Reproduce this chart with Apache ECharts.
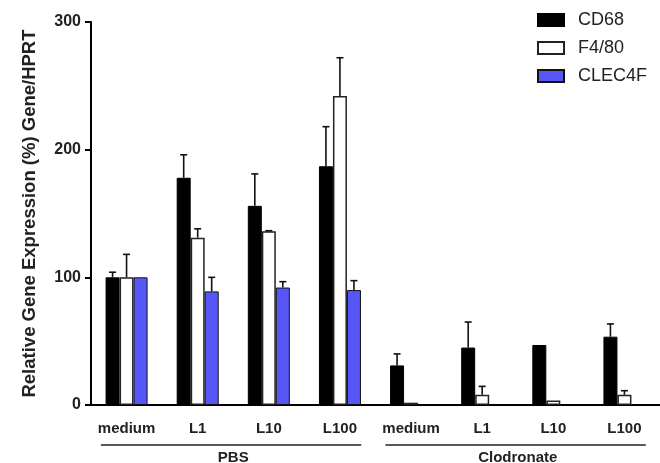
<!DOCTYPE html>
<html>
<head>
<meta charset="utf-8">
<script src="https://cdn.jsdelivr.net/npm/echarts@6/dist/echarts.min.js"></script>
<style>
  html, body { margin: 0; padding: 0; background: #fff; }
  #chart { width: 660px; height: 463px; }
</style>
</head>
<body>
<div id="chart"></div>
<script>
// categories (treatment) and groups
const categories = ['medium', 'L1', 'L10', 'L100', 'medium ', 'L1 ', 'L10 ', 'L100 '];
const groups = ['PBS', 'Clodronate'];

// mean values (% of HPRT)
const cd68 = [100, 178, 156, 187, 31, 45, 47, 53.5];
const f480 = [100, 131, 136, 242, 1.8, 8, 3.6, 8];
const clec4f = [100, 89, 92, 90, null, null, null, null];

// upper error (SEM)
const cd68Err = [4, 18, 25, 31, 9, 20, null, 10];
const f480Err = [18, 7, 0.5, 30, null, 6.6, null, 3.2];
const clec4fErr = [null, 11, 4.6, 7.4, null, null, null, null];

const yTicks = [0, 100, 200, 300];

const BAR_W = 14;
const FONT = 'Liberation Sans, Arial, sans-serif';

// error bar points: [category index, mean, err, series slot]
function errData(vals, errs, slot) {
  const out = [];
  vals.forEach((v, i) => {
    if (v != null && errs[i] != null) out.push([i, v, errs[i], slot]);
  });
  return out;
}

const errPoints = []
  .concat(errData(cd68, cd68Err, 0))
  .concat(errData(f480, f480Err, 1))
  .concat(errData(clec4f, clec4fErr, 2));

const chart = echarts.init(document.getElementById('chart'), null, { renderer: 'canvas' });

const option = {
  animation: false,
  textStyle: { fontFamily: FONT },
  grid: { left: 91, right: 0, top: 22, bottom: 58, outerBoundsMode: 'none', containLabel: false },
  legend: {
    orient: 'vertical',
    left: 537,
    top: 11,
    padding: 0,
    itemWidth: 26,
    itemHeight: 12,
    itemGap: 10,
    icon: 'rect',
    data: ['CD68', 'F4/80', 'CLEC4F'],
    textStyle: { fontSize: 18, color: '#222', padding: [0, 0, 0, 9], fontFamily: FONT }
  },
  xAxis: [
    {
      type: 'category',
      data: categories,
      axisLine: { lineStyle: { color: '#000', width: 2 } },
      axisTick: { alignWithLabel: true, length: 8, lineStyle: { color: '#000', width: 2 } },
      axisLabel: {
        interval: 0,
        margin: 16,
        fontSize: 15,
        fontWeight: 'bold',
        color: '#222',
        formatter: (v) => v.trim()
      }
    },
    {
      type: 'category',
      data: groups,
      position: 'bottom',
      axisLine: { show: false },
      axisTick: { show: false },
      axisLabel: { interval: 0, margin: 45, fontSize: 15, fontWeight: 'bold', color: '#222' }
    }
  ],
  yAxis: {
    type: 'value',
    min: yTicks[0],
    max: yTicks[yTicks.length - 1],
    interval: 100,
    name: 'Relative Gene Expression (%) Gene/HPRT',
    nameLocation: 'middle',
    nameGap: 52,
    nameTextStyle: { fontSize: 18.5, fontWeight: 'bold', color: '#222' },
    splitLine: { show: false },
    axisLine: { show: true, lineStyle: { color: '#000', width: 2 } },
    axisTick: { show: true, length: 6, lineStyle: { color: '#000', width: 2 } },
    axisLabel: { margin: 10, fontSize: 16, fontWeight: 'bold', color: '#222' }
  },
  series: [
    {
      name: 'CD68', type: 'bar', data: cd68, barWidth: BAR_W, barGap: '0%',
      itemStyle: { color: '#000', borderColor: '#000', borderWidth: 1 }
    },
    {
      name: 'F4/80', type: 'bar', data: f480, barWidth: BAR_W, barGap: '0%',
      itemStyle: { color: '#fff', borderColor: '#222', borderWidth: 1.5 }
    },
    {
      name: 'CLEC4F', type: 'bar', data: clec4f, barWidth: BAR_W, barGap: '0%',
      itemStyle: { color: '#5757F7', borderColor: '#111', borderWidth: 1 }
    },
    {
      type: 'custom',
      data: errPoints,
      z: 5,
      renderItem: function (params, api) {
        const i = api.value(0);
        const base = api.coord([i, api.value(1)]);
        const top = api.coord([i, api.value(1) + api.value(2)]);
        const x = base[0] + (api.value(3) - 1) * BAR_W;
        const style = { stroke: '#111', lineWidth: 1.6 };
        return {
          type: 'group',
          children: [
            { type: 'line', shape: { x1: x, y1: base[1], x2: x, y2: top[1] }, style: style },
            { type: 'line', shape: { x1: x - 3.5, y1: top[1], x2: x + 3.5, y2: top[1] }, style: style }
          ]
        };
      }
    }
  ]
};

chart.setOption(option);

// group underline lines, placed from the category scale
const px = (i) => chart.convertToPixel({ xAxisIndex: 0 }, i);
const w = px(1) - px(0);
const yLine = chart.convertToPixel({ yAxisIndex: 0 }, 0) + 40;
const spans = [[0, 3], [4, 7]];
chart.setOption({
  graphic: spans.map(([a, b]) => ({
    type: 'line',
    shape: { x1: px(a) - 0.36 * w, y1: yLine, x2: px(b) + 0.3 * w, y2: yLine },
    style: { stroke: '#222', lineWidth: 1.5 }
  }))
});
</script>
</body>
</html>
